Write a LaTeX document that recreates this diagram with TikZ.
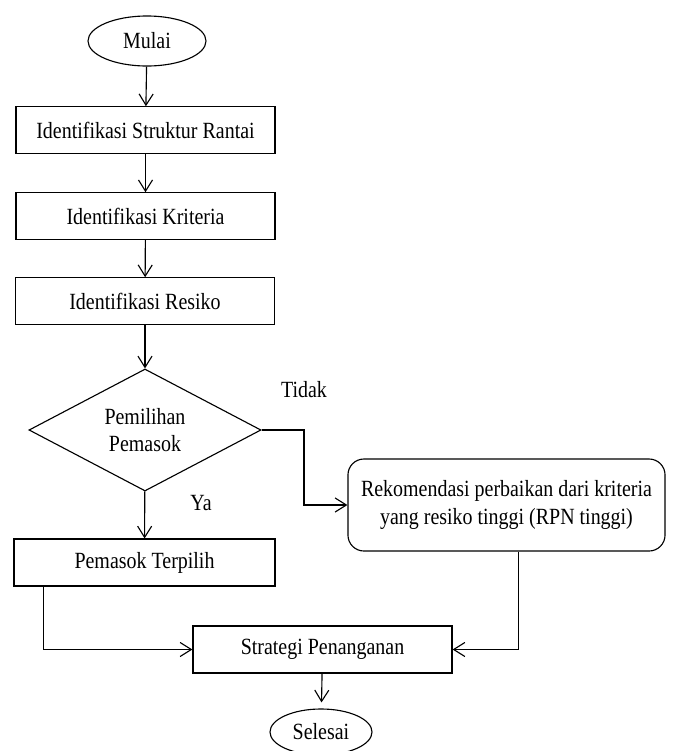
\documentclass[tikz,border=0pt]{standalone}
\usepackage{fontspec}
\setmainfont[FakeStretch=0.86]{Liberation Serif}
\usetikzlibrary{shapes.geometric,arrows.meta}

\begin{document}
\begin{tikzpicture}[x=0.025cm,y=-0.025cm,
	every node/.style={font=\fontsize{16.5}{19.8}\selectfont},
	kotak/.style={draw,line width=0.8pt,minimum width=6.475cm,minimum height=1.16cm,inner sep=0},
	ujung/.style={draw,ellipse,line width=0.8pt,inner sep=0},
	panah/.style={line width=0.8pt,-{Straight Barb[length=8pt,width=10pt]}}]

	\useasboundingbox (0,0) rectangle (672,751);

	\node[ujung,minimum width=2.95cm,minimum height=1.25cm] (mulai) at (147,41) {Mulai};
	\node[kotak] (struktur) at (145.5,130) {Identifikasi Struktur Rantai};
	\node[kotak] (kriteria) at (145.5,216) {Identifikasi Kriteria};
	\node[kotak] (resiko) at (145,301) {Identifikasi Resiko};

	\node[draw,diamond,line width=0.8pt,aspect=1.9,inner sep=0,minimum width=5.8cm,minimum height=3.05cm,align=center] (pilih) at (145,430) {Pemilihan\\Pemasok};

	\node (tidak) at (304,390) {Tidak};
	\node (ya) at (201,503) {Ya};

	\node[kotak,minimum width=6.525cm,minimum height=1.175cm] (terpilih) at (144.5,562.5) {Pemasok Terpilih};
	\node[kotak,rounded corners=0.4cm,minimum width=7.925cm,minimum height=2.3cm,align=center] (rekom) at (506.5,505) {Rekomendasi perbaikan dari kriteria\\yang resiko tinggi (RPN tinggi)};
	\node[kotak,minimum height=1.175cm] (strategi) at (322.5,649.5) {Strategi Penanganan};
	\node[ujung,minimum width=2.55cm,minimum height=1.15cm] (selesai) at (321,732) {Selesai};

	\draw[panah] (mulai) -- (struktur);
	\draw[panah] (struktur) -- (kriteria);
	\draw[panah] (kriteria) -- (resiko);
	\draw[panah] (resiko) -- (pilih);
	\draw[panah] (pilih) -- (terpilih);
	\draw[panah] (pilih.east) -- (pilih.east -| tidak) |- (rekom.west);
	\draw[panah] ([xshift=0.75cm]terpilih.south west) |- (strategi.west);
	\draw[panah] ([xshift=0.3cm]rekom.south) |- (strategi.east);
	\draw[panah,shorten >=0.15cm] (strategi) -- (selesai);
\end{tikzpicture}
\end{document}
